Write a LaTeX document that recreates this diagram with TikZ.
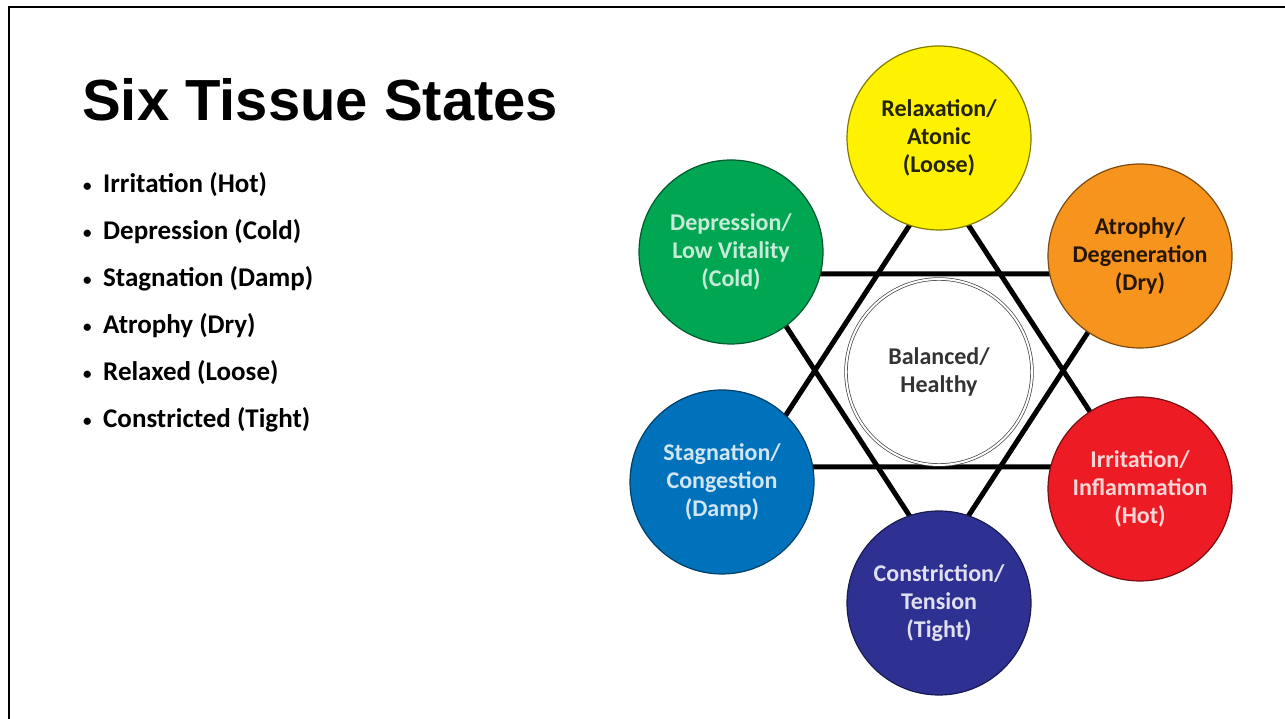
\documentclass[tikz,border=0pt]{standalone}
\usepackage{fontspec}
\setmainfont{Carlito}
\newfontfamily\titlefont{Liberation Sans}
\usetikzlibrary{positioning,backgrounds}

\definecolor{relaxfill}{HTML}{FFF200}
\definecolor{atrophyfill}{HTML}{F7941D}
\definecolor{irritfill}{HTML}{ED1C24}
\definecolor{constrictfill}{HTML}{2E3192}
\definecolor{stagfill}{HTML}{0072BC}
\definecolor{deprfill}{HTML}{00A651}

\newcommand{\listdot}{\makebox[21pt][l]{\hspace{1pt}\raisebox{1.5pt}{\fontsize{17}{17}\selectfont\textbullet}}}

\tikzset{
  state/.style={draw, circle, line width=1.2pt, minimum size=184pt, inner sep=0pt, align=center,
    font=\bfseries\fontsize{24}{28}\selectfont},
  starline/.style={line width=5pt, black, line join=round},
  listitem/.style={anchor=west, inner sep=0pt, font=\bfseries\fontsize{27}{32}\selectfont}
}

\begin{document}
\begin{tikzpicture}[x=1pt, y=1pt]
\useasboundingbox (0,0) rectangle (1285,719);
\draw[line width=2.5pt] (9,0) -- (9,712) -- (1285,712);

% title and list
\node (title) [anchor=base west, inner sep=0pt, font=\titlefont\bfseries\fontsize{58}{66}\selectfont] at (82,598) {Six Tissue States};
\node (hot) [listitem] at (82,534) {\listdot Irritation (Hot)};
\node (cold) [listitem, below=47pt of hot.west, anchor=west] {\listdot Depression (Cold)};
\node (damp) [listitem, below=47pt of cold.west, anchor=west] {\listdot Stagnation (Damp)};
\node (dry) [listitem, below=47pt of damp.west, anchor=west] {\listdot Atrophy (Dry)};
\node (loose) [listitem, below=47pt of dry.west, anchor=west] {\listdot Relaxed (Loose)};
\node (tight) [listitem, below=47pt of loose.west, anchor=west] {\listdot Constricted (Tight)};

% the six states round the centre
\node (balanced) [state, fill=white, draw=black!75, line width=0.7pt, double=white, double distance=2pt, minimum size=186pt, text=black!80] at (939,347) {Balanced/\\Healthy};
\node (relaxation) [state, fill=relaxfill, draw=relaxfill!50!black, text=black!85!relaxfill] at (939,581) {Relaxation/\\Atonic\\(Loose)};
\node (atrophy) [state, fill=atrophyfill, draw=atrophyfill!50!black, text=black!85!atrophyfill] at (1140,463) {Atrophy/\\Degeneration\\(Dry)};
\node (irritation) [state, fill=irritfill, draw=irritfill!50!black, text=irritfill!18!white] at (1140,230) {Irritation/\\Inflammation\\(Hot)};
\node (constriction) [state, fill=constrictfill, draw=constrictfill!55!black, text=constrictfill!15!white] at (939,116) {Constriction/\\Tension\\(Tight)};
\node (stagnation) [state, fill=stagfill, draw=stagfill!55!black, text=stagfill!18!white] at (722,237) {Stagnation/\\Congestion\\(Damp)};
\node (depression) [state, fill=deprfill, draw=deprfill!55!black, text=deprfill!22!white] at (731,467) {Depression/\\Low Vitality\\(Cold)};

% star behind the circles
\coordinate (uptop) at (939,539);
\coordinate (upleft) at (752,252);
\coordinate (upright) at (1126,252);
\coordinate (downleft) at (752,445);
\coordinate (downright) at (1126,445);
\coordinate (downbottom) at (939,158);
\begin{pgfonlayer}{background}
\draw[starline] (uptop) -- (upleft) -- (upright) -- cycle;
\draw[starline] (downleft) -- (downright) -- (downbottom) -- cycle;
\end{pgfonlayer}
\end{tikzpicture}
\end{document}
